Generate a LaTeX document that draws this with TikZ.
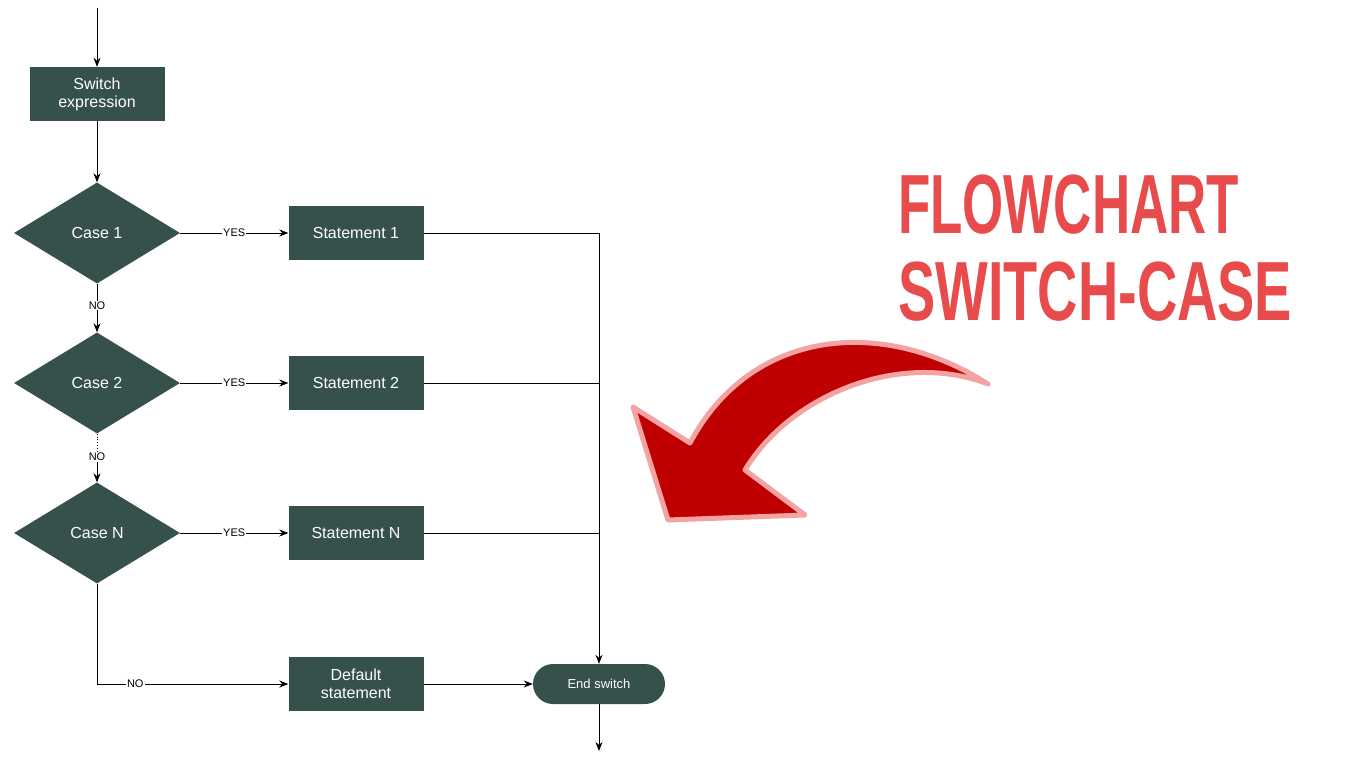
\documentclass[tikz,border=0pt]{standalone}
\usepackage{fontspec}
\setmainfont{Liberation Sans}
\usetikzlibrary{shapes.geometric,shapes.misc,arrows.meta}
\definecolor{slate}{HTML}{36504C}
\definecolor{ttl}{HTML}{E84B4B}
\definecolor{darkred}{HTML}{C00000}
\definecolor{pinkline}{HTML}{F4A3A3}
\begin{document}
\begin{tikzpicture}[x=1pt,y=-1pt,
 box/.style={fill=slate,text=white,minimum width=135pt,minimum height=54pt,align=center,font=\fontsize{16}{18}\selectfont,inner sep=1pt},
 dia/.style={diamond,fill=slate,text=white,minimum width=166pt,minimum height=101pt,aspect=1.64,inner sep=0pt,font=\fontsize{16}{18}\selectfont},
 arr/.style={-{Stealth[length=9pt,width=7pt]},line width=0.8pt},
 ln/.style={line width=0.8pt},
 lab/.style={fill=white,inner sep=1pt,font=\fontsize{11}{12}\selectfont}]
\useasboundingbox (0,0) rectangle (1366,768);
\fill[white] (0,0) rectangle (1366,768);
\coordinate (top) at (97,8);
\node[box] (sw) at (97,94) {Switch\\expression};
\node[dia] (c1) at (97,233) {};
\node[text=white,font=\fontsize{16}{18}\selectfont] at (97,233) {Case 1};
\node[dia] (c2) at (97,383) {};
\node[text=white,font=\fontsize{16}{18}\selectfont] at (97,383) {Case 2};
\node[dia] (cn) at (97,533) {};
\node[text=white,font=\fontsize{16}{18}\selectfont] at (97,533) {Case N};
\node[box] (s1) at (356,233) {Statement 1};
\node[box] (s2) at (356,383) {Statement 2};
\node[box] (sn) at (356,533) {Statement N};
\node[box] (df) at (356,684) {Default\\statement};
\node[rounded rectangle,fill=slate,text=white,minimum width=134pt,minimum height=40pt,font=\fontsize{13}{14}\selectfont,inner sep=1pt] (end) at (599,684) {End switch};
\coordinate (bot) at (599,751);
\coordinate (j1) at (599,233);
\coordinate (j2) at (599,383);
\coordinate (j3) at (599,533);
\coordinate (k) at (97,684);
\draw[arr] (top) -- (sw.north);
\draw[arr] (sw.south) -- (c1.north);
\draw[arr] (c1.east) -- node[lab]{YES} (s1.west);
\draw[arr] (c2.east) -- node[lab]{YES} (s2.west);
\draw[arr] (cn.east) -- node[lab]{YES} (sn.west);
\draw[arr] (c1.south) -- node[lab,pos=0.45]{NO} (c2.north);
\draw[ln,dotted] (c2.south) -- ++(0,18);
\node[lab] (no2) at (97,457) {NO};
\draw[arr] (no2.south) -- (cn.north);
\draw[ln] (cn.south) -- (k);
\draw[arr] (k) -- node[lab,pos=0.2]{NO} (df.west);
\draw[ln] (s1.east) -- (j1);
\draw[ln] (s2.east) -- (j2);
\draw[ln] (sn.east) -- (j3);
\draw[arr] (j1) -- (end.north);
\draw[arr] (df.east) -- (end.west);
\draw[arr] (end.south) -- (bot);
\node[text=ttl,font=\bfseries\fontsize{84}{90}\selectfont,anchor=west,xscale=0.63,inner sep=0] at (898,205) {FLOWCHART};
\node[text=ttl,font=\bfseries\fontsize{84}{90}\selectfont,anchor=west,xscale=0.665,inner sep=0] at (898,292) {SWITCH-CASE};
\draw[draw=pinkline,fill=darkred,line width=5pt,line join=round]
 (988,384) .. controls (900,350) and (790,395) .. (745,470)
 -- (805,515) -- (668,520) -- (633,407) -- (690,443)
 .. controls (750,330) and (880,315) .. cycle;
\end{tikzpicture}
\end{document}
